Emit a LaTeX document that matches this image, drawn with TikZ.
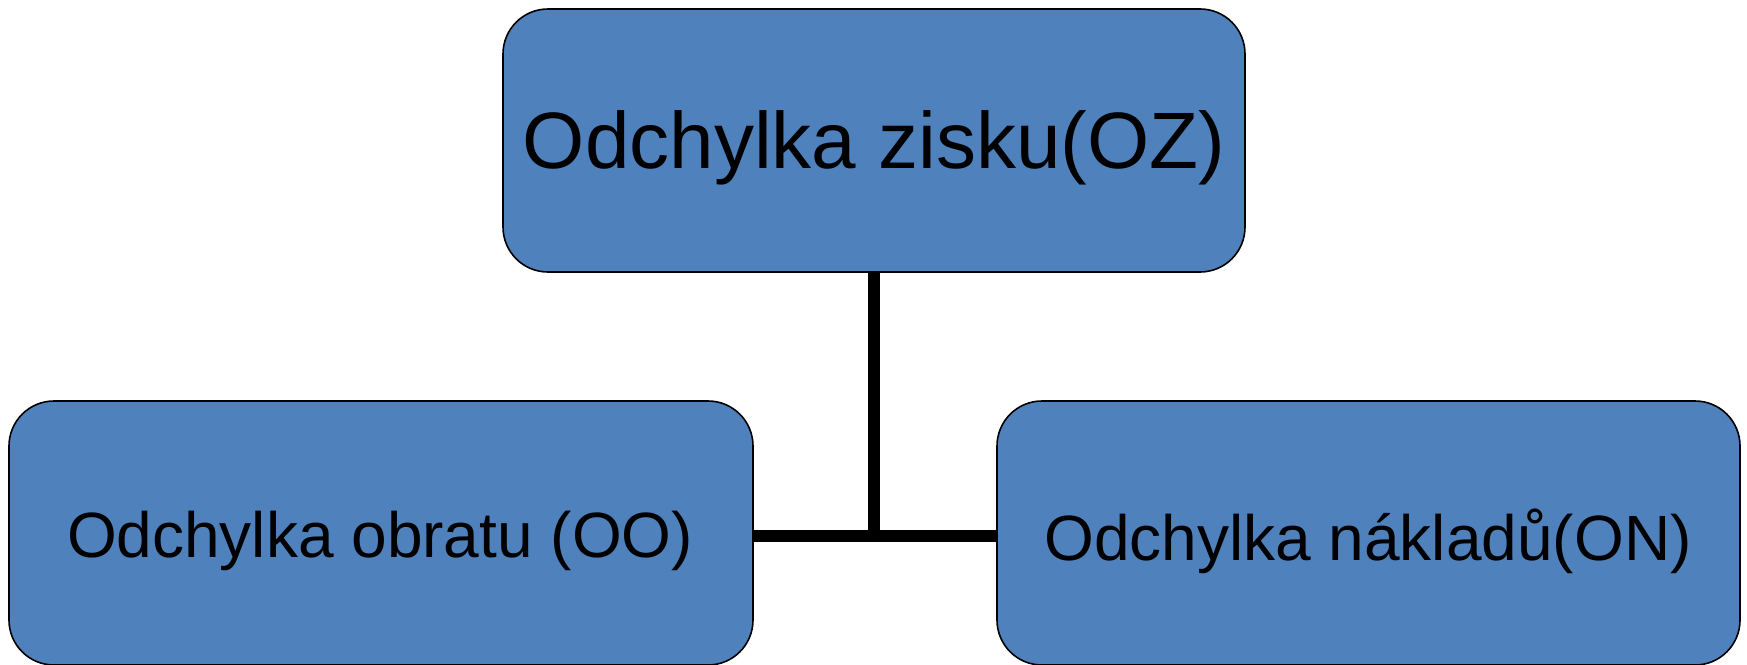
\documentclass[tikz,border=0pt]{standalone}
\usepackage{fontspec}
\setmainfont{Liberation Sans}
\definecolor{boxblue}{HTML}{4F81BD}
\begin{document}
\begin{tikzpicture}[x=1pt,y=-1pt,
  box/.style={draw=black,line width=1.6pt,fill=boxblue,rounded corners=45pt,inner sep=0pt},
  conn/.style={draw=black,line width=12pt}]
\useasboundingbox (0,0) rectangle (1747,664);
\path[box] (503,9) rectangle (1245,272);
\node (top) at (874,148) {\fontsize{80}{96}\selectfont Odchylka zisku(OZ)};
\path[box] (9,401) rectangle (753,665);
\node (left) at (380,541) {\fontsize{64}{77}\selectfont Odchylka obratu (OO)};
\path[box] (997,401) rectangle (1740,665);
\node (right) at (1368,541) {\fontsize{64}{77}\selectfont Odchylka nákladů(ON)};
\coordinate (tb) at (874,273);
\coordinate (lb) at (754,536);
\coordinate (rb) at (996,536);
\coordinate (mid) at (874,536);
\draw[conn] (tb) -- (mid);
\draw[conn] (lb) -- (rb);
\end{tikzpicture}
\end{document}
